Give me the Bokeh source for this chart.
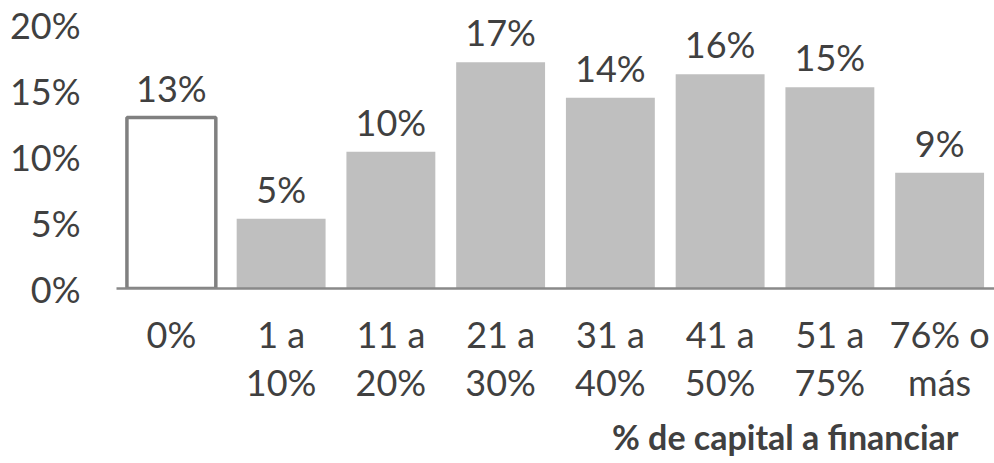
from bokeh.plotting import figure
from bokeh.models import ColumnDataSource, Range1d, FixedTicker, Title
from bokeh.core.properties import value
from bokeh.embed import file_html
from bokeh.resources import INLINE

categories = ["0%", "1 a\n10%", "11 a\n20%", "21 a\n30%", "31 a\n40%", "41 a\n50%", "51 a\n75%", "76% o\nmás"]
values = [13.0, 5.3, 10.4, 17.2, 14.5, 16.3, 15.3, 8.8]
bar_labels = ["13%", "5%", "10%", "17%", "14%", "16%", "15%", "9%"]
y_ticks = [0, 5, 10, 15, 20]
y_tick_labels = ["0%", "5%", "10%", "15%", "20%"]
axis_title = "% de capital a financiar"

FONT = "Lato"
TXT = "#404040"

idx = list(range(len(categories)))
fills = ["white"] + ["#bfbfbf"] * (len(categories) - 1)
line_alphas = [1.0] + [0.0] * (len(categories) - 1)

src = ColumnDataSource(dict(x=idx, top=values, label=bar_labels, fill=fills, la=line_alphas))

p = figure(width=994, height=463, output_backend="svg", toolbar_location=None,
           x_range=Range1d(-0.5, 7.5), y_range=Range1d(0, 21.9),
           min_border_left=116, min_border_right=0, min_border_top=0, min_border_bottom=175)
p.outline_line_color = None
p.xgrid.visible = False
p.ygrid.visible = False
p.background_fill_color = "white"
p.border_fill_color = "white"

p.vbar(x="x", top="top", width=0.81, source=src, fill_color="fill",
       line_color="#808080", line_alpha="la", line_width=3.5)

p.text(x="x", y="top", text="label", source=src, text_align="center",
       text_baseline="alphabetic", y_offset=-30, text_font=value(FONT),
       text_font_size="36px", text_color=TXT)

# y axis
p.yaxis.ticker = FixedTicker(ticks=y_ticks)
p.yaxis.major_label_overrides = {t: l for t, l in zip(y_ticks, y_tick_labels)}
p.yaxis.axis_line_color = None
p.yaxis.major_tick_line_color = None
p.yaxis.minor_tick_line_color = None
p.yaxis.major_label_text_font = FONT
p.yaxis.major_label_text_font_size = "36px"
p.yaxis.major_label_text_color = TXT
p.yaxis.major_label_standoff = 30

# x axis
p.xaxis.ticker = FixedTicker(ticks=idx)
p.xaxis.major_label_overrides = {i: c for i, c in zip(idx, categories)}
p.xaxis.axis_line_color = "#898989"
p.xaxis.axis_line_width = 2.5
p.xaxis.major_tick_line_color = None
p.xaxis.minor_tick_line_color = None
p.xaxis.major_label_text_font = FONT
p.xaxis.major_label_text_font_size = "36px"
p.xaxis.major_label_text_color = TXT
p.xaxis.major_label_text_line_height = 1.1
p.xaxis.major_label_standoff = 17

t = Title(text=axis_title, align="right", offset=36, standoff=14,
          text_font=FONT, text_font_style="bold", text_font_size="34px",
          text_color=TXT)
p.add_layout(t, "below")

open("out.html", "w").write(file_html(p, INLINE))
